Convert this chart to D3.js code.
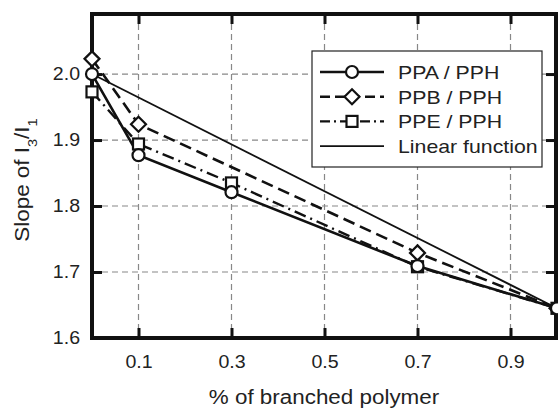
<!DOCTYPE html>
<html><head><meta charset="utf-8">
<script src="https://cdn.jsdelivr.net/npm/d3@7"></script>
<style>body{margin:0;background:#fff}</style>
</head><body><svg id="c" width="558" height="410"></svg>
<script>
const xTicks = [0.1, 0.3, 0.5, 0.7, 0.9];
const yTicks = [1.6, 1.7, 1.8, 1.9, 2.0];
const ppaX = [0, 0.1, 0.3, 0.7, 1.0];
const ppaY = [2.0, 1.877, 1.821, 1.709, 1.645];
const ppbX = [0, 0.1, 0.7, 1.0];
const ppbY = [2.023, 1.924, 1.729, 1.645];
const ppeX = [0, 0.1, 0.3, 0.7, 1.0];
const ppeY = [1.973, 1.894, 1.835, 1.708, 1.645];
const linX = [0, 1.0];
const linY = [2.0, 1.645];
const seriesNames = ["PPA / PPH", "PPB / PPH", "PPE / PPH", "Linear function"];

const svg = d3.select("#c");
const L = 92, R = 557, T = 14, B = 338;
const x = d3.scaleLinear().domain([0, 1]).range([L, R]);
const y = d3.scaleLinear().domain([1.6, 2.091]).range([B, T]);
const font = "Helvetica, Arial, 'Liberation Sans', sans-serif";

// grid
const g = svg.append("g");
g.selectAll(".gx").data(xTicks).join("line")
  .attr("x1", d => x(d)).attr("x2", d => x(d)).attr("y1", T).attr("y2", B)
  .attr("stroke", "#888").attr("stroke-width", 1.2).attr("stroke-dasharray", "6,4");
g.selectAll(".gy").data(yTicks.filter(d => d > 1.6)).join("line")
  .attr("y1", d => y(d)).attr("y2", d => y(d)).attr("x1", L).attr("x2", R)
  .attr("stroke", "#888").attr("stroke-width", 1.2).attr("stroke-dasharray", "6,4");

// axes with inward ticks
const axB = svg.append("g").attr("transform", `translate(0,${B})`)
  .call(d3.axisBottom(x).tickValues(xTicks).tickFormat(d3.format(".1f")).tickSizeInner(-10).tickSizeOuter(0).tickPadding(18));
const axT = svg.append("g").attr("transform", `translate(0,${T})`)
  .call(d3.axisTop(x).tickValues(xTicks).tickFormat("").tickSizeInner(-10).tickSizeOuter(0));
const axL = svg.append("g").attr("transform", `translate(${L},0)`)
  .call(d3.axisLeft(y).tickValues(yTicks).tickFormat(d3.format(".1f")).tickSizeInner(-10).tickSizeOuter(0).tickPadding(12));
const axR = svg.append("g").attr("transform", `translate(${R - 1},0)`)
  .call(d3.axisRight(y).tickValues(yTicks).tickFormat("").tickSizeInner(-10).tickSizeOuter(0));
[axB, axT, axL, axR].forEach(a => {
  a.select(".domain").remove();
  a.selectAll(".tick line").attr("stroke", "#111").attr("stroke-width", 3);
  a.selectAll("text").attr("font-family", font).attr("font-size", 17.5).attr("fill", "#222");
});

// frame
svg.append("rect").attr("x", L).attr("y", T).attr("width", R - 1 - L).attr("height", B - T)
  .attr("fill", "none").attr("stroke", "#111").attr("stroke-width", 4);

// lines
const mk = (xs, ys) => xs.map((v, i) => [v, ys[i]]);
const line = d3.line().x(d => x(d[0])).y(d => y(d[1]));
const series = [
  {pts: mk(linX, linY), dash: null, w: 1.8, m: null},
  {pts: mk(ppbX, ppbY), dash: "12,6", w: 2.6, m: "diamond"},
  {pts: mk(ppeX, ppeY), dash: "12,5,2,5", w: 2.4, m: "square"},
  {pts: mk(ppaX, ppaY), dash: null, w: 2.6, m: "circle"},
];
const plot = svg.append("g");
series.forEach(s => {
  plot.append("path").attr("d", line(s.pts)).attr("fill", "none").attr("stroke", "#111")
    .attr("stroke-width", s.w).attr("stroke-dasharray", s.dash);
});
function marker(sel, type, cx, cy) {
  if (type === "circle") sel.append("circle").attr("cx", cx).attr("cy", cy).attr("r", 6)
    .attr("fill", "#fff").attr("stroke", "#111").attr("stroke-width", 2.2);
  if (type === "square") sel.append("rect").attr("x", cx - 5.5).attr("y", cy - 5.5).attr("width", 11).attr("height", 11)
    .attr("fill", "#fff").attr("stroke", "#111").attr("stroke-width", 2.2);
  if (type === "diamond") sel.append("path").attr("d", `M${cx},${cy - 7.5}L${cx + 7.5},${cy}L${cx},${cy + 7.5}L${cx - 7.5},${cy}Z`)
    .attr("fill", "#fff").attr("stroke", "#111").attr("stroke-width", 2.2);
}
[series[1], series[2], series[3]].forEach(s => {
  s.pts.forEach(p => marker(plot, s.m, x(p[0]), y(p[1])));
});

// legend
const lg = svg.append("g");
lg.append("rect").attr("x", 312).attr("y", 51).attr("width", 230).attr("height", 116)
  .attr("fill", "#fff").attr("stroke", "#222").attr("stroke-width", 1.2);
const legSpec = [
  {dash: null, w: 2.6, m: "circle"},
  {dash: "10,5", w: 2.6, m: "diamond"},
  {dash: "10,4,2,4", w: 2.4, m: "square"},
  {dash: null, w: 1.8, m: null},
];
seriesNames.forEach((n, i) => {
  const yy = 72 + i * 24.7;
  lg.append("line").attr("x1", 320).attr("x2", 384).attr("y1", yy).attr("y2", yy)
    .attr("stroke", "#111").attr("stroke-width", legSpec[i].w).attr("stroke-dasharray", legSpec[i].dash);
  if (legSpec[i].m) marker(lg, legSpec[i].m, 352, yy);
  lg.append("text").attr("x", 398).attr("y", yy).attr("dy", "0.36em").text(n)
    .attr("font-family", font).attr("font-size", 19).attr("fill", "#222");
});

// axis titles
svg.append("text").attr("x", 324).attr("y", 404).attr("text-anchor", "middle")
  .attr("font-family", font).attr("font-size", 20).attr("fill", "#222").text("% of branched polymer");
const yt = svg.append("text").attr("transform", `translate(22,180) rotate(-90)`)
  .attr("text-anchor", "middle").attr("dy", "0.35em")
  .attr("font-family", font).attr("font-size", 20).attr("fill", "#222");
yt.append("tspan").text("Slope of I");
yt.append("tspan").attr("baseline-shift", "sub").attr("font-size", 13).text("3");
yt.append("tspan").text("/I");
yt.append("tspan").attr("baseline-shift", "sub").attr("font-size", 13).text("1");

// slightly wider glyphs, as in the reference typeface
svg.selectAll("text").each(function () {
  const w = this.getComputedTextLength();
  if (w > 0) {
    this.setAttribute("textLength", (w * 1.12).toFixed(1));
    this.setAttribute("lengthAdjust", "spacingAndGlyphs");
  }
});
</script></body></html>
